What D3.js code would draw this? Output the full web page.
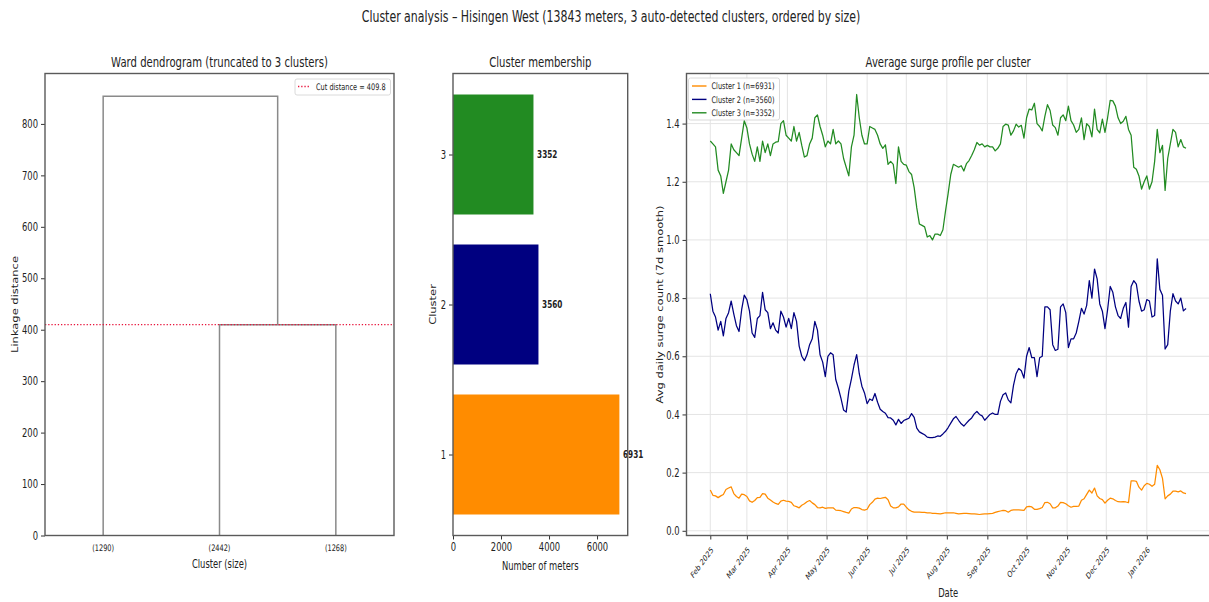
<!DOCTYPE html>
<html>
<head>
<meta charset="utf-8">
<script src="https://cdn.jsdelivr.net/npm/d3@7"></script>
<style>
  body { margin: 0; background: #fff; }
  svg { display: block; }
  text { font-family: "DejaVu Sans", sans-serif; fill: #222; }
</style>
</head>
<body>
<svg id="fig" width="1209" height="602"></svg>
<script>
// ---- data ----
const clusterIds = [1, 2, 3];
const clusterSizes = [6931, 3560, 3352];
const clusterColors = ["#ff8c00", "#000080", "#228b22"];
const totalMeters = 13843;
const areaName = "Hisingen West";

// truncated Ward dendrogram: three leaves, two merges
const leafLabels = ["(1290)", "(2442)", "(1268)"];
const lowerMerge = 409.8;   // leaves 2 and 3
const upperMerge = 854;     // leaf 1 with the (2,3) group
const cutDistance = 409.8;
const linkageTicks = [0, 100, 200, 300, 400, 500, 600, 700, 800];

const meterTicks = [0, 2000, 4000, 6000];
const surgeTicks = [0, 0.2, 0.4, 0.6, 0.8, 1.0, 1.2, 1.4];

// 7-day smoothed average daily surge count, every second day from 2025-02-01
const surgeStart = Date.UTC(2025, 1, 1);
const surgeStepDays = 2;
const surge1 = [
  0.14,0.122,0.12,0.114,0.12,0.125,0.142,0.147,0.151,0.128,
  0.118,0.112,0.126,0.124,0.118,0.103,0.098,0.104,0.114,0.115,
  0.128,0.126,0.112,0.106,0.099,0.094,0.091,0.102,0.105,0.102,
  0.101,0.098,0.086,0.083,0.079,0.088,0.093,0.1,0.104,0.096,
  0.09,0.08,0.079,0.081,0.077,0.079,0.079,0.079,0.071,0.07,
  0.069,0.066,0.063,0.061,0.075,0.08,0.08,0.078,0.073,0.071,
  0.074,0.09,0.098,0.109,0.112,0.111,0.113,0.115,0.107,0.085,
  0.079,0.079,0.082,0.092,0.092,0.081,0.072,0.067,0.064,0.064,
  0.064,0.063,0.063,0.062,0.062,0.06,0.06,0.059,0.058,0.06,
  0.062,0.062,0.062,0.062,0.06,0.058,0.059,0.06,0.06,0.059,
  0.058,0.058,0.057,0.056,0.057,0.058,0.058,0.059,0.06,0.063,
  0.066,0.068,0.07,0.069,0.064,0.07,0.072,0.072,0.072,0.071,
  0.07,0.082,0.084,0.082,0.074,0.074,0.076,0.08,0.097,0.098,
  0.093,0.079,0.079,0.085,0.098,0.097,0.093,0.086,0.081,0.084,
  0.084,0.085,0.105,0.11,0.125,0.14,0.13,0.147,0.12,0.111,
  0.107,0.095,0.105,0.112,0.11,0.104,0.1,0.099,0.1,0.099,
  0.097,0.172,0.172,0.17,0.15,0.14,0.155,0.163,0.16,0.153,
  0.16,0.225,0.21,0.18,0.11,0.12,0.126,0.136,0.136,0.134,
  0.137,0.13,0.128
];
const surge2 = [
  0.815,0.755,0.735,0.69,0.72,0.67,0.73,0.75,0.79,0.745,
  0.705,0.685,0.76,0.81,0.795,0.755,0.68,0.665,0.73,0.74,
  0.82,0.76,0.75,0.695,0.715,0.69,0.68,0.755,0.735,0.70,
  0.73,0.695,0.75,0.72,0.635,0.60,0.585,0.605,0.64,0.66,
  0.72,0.69,0.605,0.58,0.53,0.60,0.612,0.605,0.52,0.49,
  0.455,0.415,0.408,0.48,0.522,0.57,0.606,0.54,0.497,0.474,
  0.437,0.453,0.448,0.472,0.442,0.418,0.41,0.404,0.389,0.388,
  0.38,0.364,0.383,0.369,0.379,0.383,0.387,0.403,0.39,0.353,
  0.34,0.335,0.33,0.322,0.32,0.32,0.322,0.326,0.325,0.333,
  0.342,0.355,0.37,0.385,0.393,0.38,0.368,0.36,0.37,0.38,
  0.388,0.402,0.41,0.40,0.395,0.38,0.39,0.40,0.405,0.40,
  0.40,0.445,0.468,0.474,0.45,0.44,0.50,0.54,0.558,0.55,
  0.525,0.60,0.63,0.595,0.595,0.53,0.595,0.60,0.77,0.77,
  0.76,0.64,0.62,0.624,0.77,0.78,0.75,0.63,0.66,0.66,
  0.68,0.72,0.765,0.745,0.775,0.86,0.80,0.90,0.866,0.78,
  0.755,0.695,0.76,0.84,0.82,0.77,0.74,0.73,0.765,0.785,
  0.70,0.84,0.86,0.848,0.79,0.755,0.76,0.795,0.79,0.735,
  0.74,0.935,0.83,0.81,0.625,0.64,0.755,0.815,0.79,0.78,
  0.80,0.756,0.764
];
const surge3 = [
  1.34,1.33,1.32,1.24,1.22,1.16,1.20,1.24,1.33,1.31,
  1.30,1.29,1.35,1.41,1.385,1.33,1.295,1.27,1.32,1.27,
  1.34,1.30,1.33,1.29,1.33,1.336,1.338,1.40,1.41,1.36,
  1.35,1.34,1.39,1.34,1.37,1.325,1.285,1.29,1.33,1.35,
  1.42,1.43,1.39,1.36,1.32,1.34,1.33,1.38,1.33,1.34,
  1.33,1.28,1.25,1.22,1.32,1.36,1.50,1.42,1.36,1.33,
  1.33,1.39,1.385,1.38,1.36,1.33,1.315,1.327,1.26,1.27,
  1.26,1.194,1.32,1.27,1.26,1.257,1.235,1.225,1.18,1.11,
  1.055,1.05,1.045,1.01,1.015,1.0,1.02,1.02,1.015,1.035,
  1.10,1.16,1.225,1.26,1.255,1.25,1.255,1.237,1.262,1.273,
  1.29,1.31,1.335,1.326,1.33,1.32,1.325,1.32,1.32,1.306,
  1.315,1.33,1.39,1.398,1.395,1.36,1.375,1.398,1.388,1.394,
  1.35,1.42,1.45,1.447,1.47,1.40,1.39,1.375,1.425,1.465,
  1.445,1.395,1.386,1.36,1.42,1.43,1.41,1.46,1.41,1.395,
  1.37,1.38,1.42,1.345,1.40,1.39,1.354,1.45,1.38,1.368,
  1.415,1.37,1.42,1.48,1.478,1.46,1.42,1.40,1.408,1.425,
  1.38,1.36,1.25,1.243,1.22,1.175,1.20,1.22,1.175,1.20,
  1.27,1.38,1.30,1.325,1.17,1.28,1.33,1.38,1.37,1.32,
  1.345,1.32,1.315
];
const surgeSeries = [surge1, surge2, surge3];

// ---- drawing ----
const SX = 0.73;            // horizontal text squeeze of the figure
const svg = d3.select("#fig");
svg.append("rect").attr("width", 1209).attr("height", 602).attr("fill", "#fff");

const SPINE = "#5a5a5a";

function txt(g, x, y, str, o = {}) {
  const t = g.append("text")
    .attr("transform", `translate(${x},${y}) scale(${SX},1)` + (o.rotate ? ` rotate(${o.rotate})` : ""))
    .attr("text-anchor", o.anchor || "middle")
    .style("font-size", (o.size || 11.5) + "px")
    .text(str);
  if (o.weight) t.style("font-weight", o.weight);
  if (o.dy) t.attr("dy", o.dy);
  return t;
}

function styleAxis(g, size) {
  g.select(".domain").remove();
  g.selectAll(".tick line").attr("stroke", "#333").attr("stroke-width", 1);
  g.selectAll(".tick text").style("font-size", size + "px").attr("fill", "#222")
    .each(function () {
      const t = d3.select(this);
      const x = +t.attr("x") || 0;
      t.attr("x", x / SX).attr("transform", `scale(${SX},1)`);
    });
}

function frame(x0, y0, x1, y1) {
  svg.append("rect").attr("x", x0).attr("y", y0).attr("width", x1 - x0).attr("height", y1 - y0)
    .attr("fill", "none").attr("stroke", SPINE).attr("stroke-width", 1.4);
}

const TOP = 73.5, BOTTOM = 535.5;
const TITLE_SIZE = 13.8;

// suptitle
txt(svg, 611, 22,
  `Cluster analysis \u2013 ${areaName} (${totalMeters} meters, ${clusterIds.length} auto-detected clusters, ordered by size)`,
  { size: 15 });

// ===== Panel 1: dendrogram =====
{
  const L = 45, R = 394;
  const x = d3.scaleLinear().domain([0, leafLabels.length * 10]).range([L, R]);
  const y = d3.scaleLinear().domain([0, 898]).range([BOTTOM, TOP]);
  const g = svg.append("g");
  const leafX = leafLabels.map((_, i) => 5 + 10 * i);
  const midLower = (leafX[1] + leafX[2]) / 2;
  const links = [
    [[leafX[1], 0], [leafX[1], lowerMerge], [leafX[2], lowerMerge], [leafX[2], 0]],
    [[leafX[0], 0], [leafX[0], upperMerge], [midLower, upperMerge], [midLower, lowerMerge]]
  ];
  const line = d3.line().x(d => x(d[0])).y(d => y(d[1]));
  g.selectAll("path.link").data(links).join("path").attr("class", "link")
    .attr("d", line).attr("fill", "none").attr("stroke", "#8a8a8a").attr("stroke-width", 1.5);

  g.append("line").attr("x1", L).attr("x2", R).attr("y1", y(cutDistance)).attr("y2", y(cutDistance))
    .attr("stroke", "#e8143c").attr("stroke-width", 1.3).attr("stroke-dasharray", "1.3,1.9");

  const ay = g.append("g").attr("transform", `translate(${L},0)`)
    .call(d3.axisLeft(y).tickValues(linkageTicks).tickSize(4).tickPadding(3));
  styleAxis(ay, 11.5);

  leafLabels.forEach((s, i) => txt(g, x(leafX[i]), 551, s, { size: 9 }));
  frame(L, TOP, R, BOTTOM);

  txt(g, (L + R) / 2, 67, "Ward dendrogram (truncated to 3 clusters)", { size: TITLE_SIZE });
  txt(g, (L + R) / 2, 568, "Cluster (size)", { size: 11.5 });
  txt(g, 18, (TOP + BOTTOM) / 2, "Linkage distance", { size: 11.5, rotate: -90 });

  // legend
  const lg = g.append("g");
  lg.append("rect").attr("x", 295).attr("y", 79).attr("width", 95.5).attr("height", 16).attr("rx", 2)
    .attr("fill", "#fff").attr("stroke", "#d0d0d0").attr("stroke-width", 0.8);
  lg.append("line").attr("x1", 298).attr("x2", 309).attr("y1", 86.5).attr("y2", 86.5)
    .attr("stroke", "#e8143c").attr("stroke-width", 1.3).attr("stroke-dasharray", "1.3,1.9");
  txt(lg, 316, 89.8, `Cut distance = ${cutDistance.toFixed(1)}`, { size: 9, anchor: "start" });
}

// ===== Panel 2: cluster membership =====
{
  const L = 453, R = 627.7;
  const x = d3.scaleLinear().domain([0, d3.max(clusterSizes) * 1.05]).range([L, R]);
  const y = d3.scaleLinear().domain([0.46, 3.54]).range([BOTTOM, TOP]);
  const g = svg.append("g");
  const bh = y(0) - y(0.8);
  g.selectAll("rect.bar").data(clusterIds).join("rect").attr("class", "bar")
    .attr("x", x(0)).attr("y", d => y(d) - bh / 2)
    .attr("width", (d, i) => x(clusterSizes[i]) - x(0)).attr("height", bh)
    .attr("fill", (d, i) => clusterColors[i]);
  clusterIds.forEach((d, i) =>
    txt(g, x(clusterSizes[i] + 150), y(d), String(clusterSizes[i]), { size: 10, anchor: "start", weight: "bold", dy: "0.35em" }));

  const ax = g.append("g").attr("transform", `translate(0,${BOTTOM})`)
    .call(d3.axisBottom(x).tickValues(meterTicks).tickFormat(d3.format("d")).tickSize(4).tickPadding(3));
  styleAxis(ax, 11.5);
  const ay = g.append("g").attr("transform", `translate(${L},0)`)
    .call(d3.axisLeft(y).tickValues(clusterIds).tickFormat(d3.format("d")).tickSize(4).tickPadding(3));
  styleAxis(ay, 11.5);
  frame(L, TOP, R, BOTTOM);

  txt(g, (L + R) / 2, 67, "Cluster membership", { size: TITLE_SIZE });
  txt(g, (L + R) / 2, 570, "Number of meters", { size: 11.5 });
  txt(g, 436, (TOP + BOTTOM) / 2, "Cluster", { size: 11.5, rotate: -90 });
}

// ===== Panel 3: average surge profile =====
{
  const L = 686.5, R = 1209.8;
  const dayMs = 864e5;
  const dates = surge1.map((_, i) => new Date(surgeStart + i * surgeStepDays * dayMs));
  const first = dates[0].getTime(), last = dates[dates.length - 1].getTime();
  const pad = (last - first) * 0.05;
  const x = d3.scaleUtc().domain([new Date(first - pad), new Date(last + pad)]).range([L, R]);
  const lo = d3.min(surgeSeries.flat()), hi = d3.max(surgeSeries.flat());
  const ypad = (hi - lo) * 0.05;
  const y = d3.scaleLinear().domain([lo - ypad, hi + ypad]).range([BOTTOM, TOP]);
  const g = svg.append("g");

  // month starts covered by the data
  const months = d3.utcMonth.range(new Date(first), new Date(last + dayMs));

  // grid
  g.append("g").selectAll("line").data(months).join("line")
    .attr("x1", d => x(d)).attr("x2", d => x(d)).attr("y1", TOP).attr("y2", BOTTOM)
    .attr("stroke", "#e4e4e4").attr("stroke-width", 1);
  g.append("g").selectAll("line").data(surgeTicks).join("line")
    .attr("x1", L).attr("x2", R).attr("y1", d => y(d)).attr("y2", d => y(d))
    .attr("stroke", "#e4e4e4").attr("stroke-width", 1);

  const line = d3.line().x((d, i) => x(dates[i])).y(d => y(d));
  g.selectAll("path.series").data(surgeSeries).join("path").attr("class", "series")
    .attr("d", line).attr("fill", "none")
    .attr("stroke", (d, i) => clusterColors[i]).attr("stroke-width", 1.25)
    .attr("stroke-linejoin", "round");

  const ay = g.append("g").attr("transform", `translate(${L},0)`)
    .call(d3.axisLeft(y).tickValues(surgeTicks).tickFormat(d3.format(".1f")).tickSize(4).tickPadding(3));
  styleAxis(ay, 11.5);

  const ax = g.append("g").attr("transform", `translate(0,${BOTTOM})`)
    .call(d3.axisBottom(x).tickValues(months).tickFormat(d3.utcFormat("%b %Y")).tickSize(4));
  ax.select(".domain").remove();
  ax.selectAll(".tick line").attr("stroke", "#333");
  ax.selectAll(".tick text")
    .attr("x", null).attr("y", null).attr("dy", null)
    .attr("text-anchor", "end").style("font-size", "8.6px").attr("fill", "#222")
    .attr("transform", `translate(3,15) scale(${SX},1) rotate(-45)`);

  frame(L, TOP, R, BOTTOM);

  txt(g, (L + R) / 2, 67, "Average surge profile per cluster", { size: TITLE_SIZE });
  txt(g, (L + R) / 2, 597, "Date", { size: 11.5 });
  txt(g, 663, (TOP + BOTTOM) / 2, "Avg daily surge count (7d smooth)", { size: 11.5, rotate: -90 });

  // legend
  const lg = g.append("g");
  lg.append("rect").attr("x", 688.5).attr("y", 78).attr("width", 91).attr("height", 42).attr("rx", 2)
    .attr("fill", "#fff").attr("fill-opacity", 0.85).attr("stroke", "#d0d0d0").attr("stroke-width", 0.8);
  clusterIds.forEach((c, i) => {
    const yy = 86 + i * 13.4;
    lg.append("line").attr("x1", 692).attr("x2", 706.5).attr("y1", yy).attr("y2", yy)
      .attr("stroke", clusterColors[i]).attr("stroke-width", 1.4);
    txt(lg, 711.5, yy + 3.2, `Cluster ${c} (n=${clusterSizes[i]})`, { size: 9, anchor: "start" });
  });
}
</script>
</body>
</html>
